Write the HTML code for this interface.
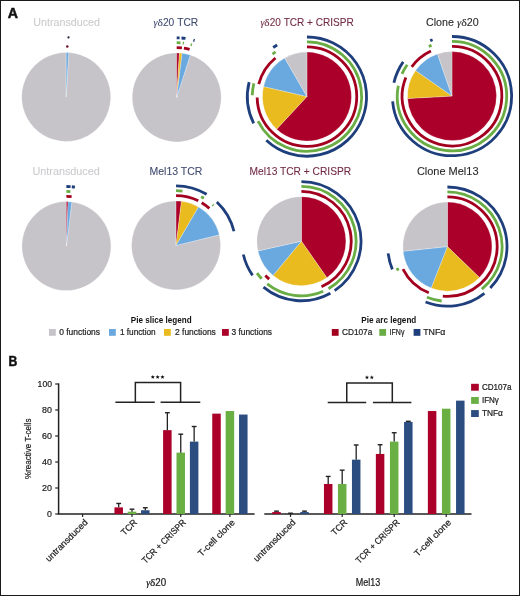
<!DOCTYPE html>
<html><head><meta charset="utf-8"><style>
html,body{margin:0;padding:0;background:#fff;}
svg{display:block;will-change:transform;}
text{font-family:"Liberation Sans",sans-serif;}
</style></head><body>
<svg width="520" height="596" viewBox="0 0 520 596">
<rect x="0" y="0" width="520" height="596" fill="#fff"/>
<path d="M66.20,96.95L68.68,52.52A44.5,44.5 0 1 1 66.20,52.45Z" fill="#c6c4c9" stroke="#fff" stroke-width="0.25" stroke-linejoin="round"/>
<path d="M66.20,96.95L66.20,52.45A44.5,44.5 0 0 1 68.68,52.52Z" fill="#6aa9df" stroke="#fff" stroke-width="0.25" stroke-linejoin="round"/><circle cx="67.3" cy="46.6" r="1.25" fill="#6a0f25"/><circle cx="68.5" cy="37.4" r="1.1" fill="#1c1f33"/>
<path d="M176.70,97.40L190.30,55.03A44.5,44.5 0 1 1 176.70,52.90Z" fill="#c6c4c9" stroke="#fff" stroke-width="0.25" stroke-linejoin="round"/>
<path d="M176.70,97.40L176.70,52.90A44.5,44.5 0 0 1 179.42,52.98Z" fill="#ab0029" stroke="#fff" stroke-width="0.25" stroke-linejoin="round"/>
<path d="M176.70,97.40L179.42,52.98A44.5,44.5 0 0 1 182.12,53.23Z" fill="#e9bb1e" stroke="#fff" stroke-width="0.25" stroke-linejoin="round"/>
<path d="M176.70,97.40L182.12,53.23A44.5,44.5 0 0 1 190.30,55.03Z" fill="#6aa9df" stroke="#fff" stroke-width="0.25" stroke-linejoin="round"/>
<path d="M176.70,47.60A49.8,49.8 0 0 1 181.91,47.87" fill="none" stroke="#a3001f" stroke-width="2.8"/>
<path d="M183.89,48.12A49.8,49.8 0 0 1 189.59,49.30" fill="none" stroke="#a3001f" stroke-width="2.8"/>
<path d="M176.70,42.70A54.7,54.7 0 0 1 180.52,42.83" fill="none" stroke="#6aad44" stroke-width="2.8"/>
<path d="M182.70,43.03A54.7,54.7 0 0 1 183.93,43.18" fill="none" stroke="#6aad44" stroke-width="2.8"/>
<path d="M190.67,44.51A54.7,54.7 0 0 1 191.96,44.87" fill="none" stroke="#6aad44" stroke-width="2.8"/>
<path d="M176.70,37.80A59.6,59.6 0 0 1 179.61,37.87" fill="none" stroke="#1f3f7c" stroke-width="2.8"/>
<path d="M181.48,37.99A59.6,59.6 0 0 1 185.51,38.45" fill="none" stroke="#1f3f7c" stroke-width="2.8"/>
<path d="M193.43,40.20A59.6,59.6 0 0 1 194.62,40.56" fill="none" stroke="#1f3f7c" stroke-width="2.8"/>
<path d="M306.95,96.60L306.95,52.10A44.5,44.5 0 1 1 276.60,129.15Z" fill="#ab0029" stroke="#fff" stroke-width="0.25" stroke-linejoin="round"/>
<path d="M306.95,96.60L276.60,129.15A44.5,44.5 0 0 1 263.59,86.59Z" fill="#e9bb1e" stroke="#fff" stroke-width="0.25" stroke-linejoin="round"/>
<path d="M306.95,96.60L263.59,86.59A44.5,44.5 0 0 1 284.70,58.06Z" fill="#6aa9df" stroke="#fff" stroke-width="0.25" stroke-linejoin="round"/>
<path d="M306.95,96.60L284.70,58.06A44.5,44.5 0 0 1 306.95,52.10Z" fill="#c6c4c9" stroke="#fff" stroke-width="0.25" stroke-linejoin="round"/>
<path d="M306.95,46.80A49.8,49.8 0 1 1 257.16,97.47" fill="none" stroke="#a3001f" stroke-width="2.8"/>
<path d="M258.74,84.13A49.8,49.8 0 0 1 275.47,58.01" fill="none" stroke="#a3001f" stroke-width="2.8"/>
<path d="M306.95,41.90A54.7,54.7 0 1 1 258.04,121.09" fill="none" stroke="#6aad44" stroke-width="2.8"/>
<path d="M252.27,95.17A54.7,54.7 0 0 1 253.87,83.37" fill="none" stroke="#6aad44" stroke-width="2.8"/>
<path d="M272.53,54.09A54.7,54.7 0 0 1 275.58,51.79" fill="none" stroke="#6aad44" stroke-width="2.8"/>
<path d="M306.95,37.00A59.6,59.6 0 1 1 266.30,140.19" fill="none" stroke="#1f3f7c" stroke-width="2.8"/>
<path d="M253.66,123.29A59.6,59.6 0 0 1 249.12,82.18" fill="none" stroke="#1f3f7c" stroke-width="2.8"/>
<path d="M273.19,47.48A59.6,59.6 0 0 1 277.15,44.98" fill="none" stroke="#1f3f7c" stroke-width="2.8"/>
<path d="M452.00,96.10L452.00,51.60A44.5,44.5 0 1 1 407.56,98.43Z" fill="#ab0029" stroke="#fff" stroke-width="0.25" stroke-linejoin="round"/>
<path d="M452.00,96.10L407.56,98.43A44.5,44.5 0 0 1 415.55,70.58Z" fill="#e9bb1e" stroke="#fff" stroke-width="0.25" stroke-linejoin="round"/>
<path d="M452.00,96.10L415.55,70.58A44.5,44.5 0 0 1 437.51,54.02Z" fill="#6aa9df" stroke="#fff" stroke-width="0.25" stroke-linejoin="round"/>
<path d="M452.00,96.10L437.51,54.02A44.5,44.5 0 0 1 452.00,51.60Z" fill="#c6c4c9" stroke="#fff" stroke-width="0.25" stroke-linejoin="round"/>
<path d="M452.00,46.30A49.8,49.8 0 1 1 405.83,77.44" fill="none" stroke="#a3001f" stroke-width="2.8"/>
<path d="M411.71,66.83A49.8,49.8 0 0 1 430.95,50.97" fill="none" stroke="#a3001f" stroke-width="2.8"/>
<path d="M452.00,41.40A54.7,54.7 0 1 1 398.30,85.66" fill="none" stroke="#6aad44" stroke-width="2.8"/>
<path d="M402.03,73.85A54.7,54.7 0 0 1 407.19,64.73" fill="none" stroke="#6aad44" stroke-width="2.8"/>
<path d="M428.88,46.52A54.7,54.7 0 0 1 431.51,45.38" fill="none" stroke="#6aad44" stroke-width="2.8"/>
<path d="M452.00,36.50A59.6,59.6 0 1 1 392.63,101.29" fill="none" stroke="#1f3f7c" stroke-width="2.8"/>
<path d="M393.93,82.69A59.6,59.6 0 0 1 403.18,61.91" fill="none" stroke="#1f3f7c" stroke-width="2.8"/>
<path d="M430.16,40.65A59.6,59.6 0 0 1 432.60,39.75" fill="none" stroke="#1f3f7c" stroke-width="2.8"/>
<path d="M66.40,246.10L71.82,201.93A44.5,44.5 0 1 1 66.40,201.60Z" fill="#c6c4c9" stroke="#fff" stroke-width="0.25" stroke-linejoin="round"/>
<path d="M66.40,246.10L66.40,201.60A44.5,44.5 0 0 1 68.11,201.63Z" fill="#ab0029" stroke="#fff" stroke-width="0.25" stroke-linejoin="round"/>
<path d="M66.40,246.10L68.11,201.63A44.5,44.5 0 0 1 71.82,201.93Z" fill="#6aa9df" stroke="#fff" stroke-width="0.25" stroke-linejoin="round"/>
<path d="M66.40,196.30A49.8,49.8 0 0 1 71.61,196.57" fill="none" stroke="#a3001f" stroke-width="2.8"/>
<path d="M66.40,191.40A54.7,54.7 0 0 1 70.41,191.55" fill="none" stroke="#6aad44" stroke-width="2.8"/>
<path d="M66.40,186.50A59.6,59.6 0 0 1 70.56,186.65" fill="none" stroke="#1f3f7c" stroke-width="2.8"/>
<path d="M71.80,186.75A59.6,59.6 0 0 1 74.90,187.11" fill="none" stroke="#1f3f7c" stroke-width="2.8"/>
<path d="M176.05,245.40L219.28,234.86A44.5,44.5 0 1 1 176.05,200.90Z" fill="#c6c4c9" stroke="#fff" stroke-width="0.25" stroke-linejoin="round"/>
<path d="M176.05,245.40L176.05,200.90A44.5,44.5 0 0 1 181.47,201.23Z" fill="#ab0029" stroke="#fff" stroke-width="0.25" stroke-linejoin="round"/>
<path d="M176.05,245.40L181.47,201.23A44.5,44.5 0 0 1 198.50,206.98Z" fill="#e9bb1e" stroke="#fff" stroke-width="0.25" stroke-linejoin="round"/>
<path d="M176.05,245.40L198.50,206.98A44.5,44.5 0 0 1 219.28,234.86Z" fill="#6aa9df" stroke="#fff" stroke-width="0.25" stroke-linejoin="round"/>
<path d="M176.05,195.60A49.8,49.8 0 0 1 198.27,200.83" fill="none" stroke="#a3001f" stroke-width="2.8"/>
<path d="M201.70,202.71A49.8,49.8 0 0 1 209.37,208.39" fill="none" stroke="#a3001f" stroke-width="2.8"/>
<path d="M176.05,190.70A54.7,54.7 0 0 1 182.53,191.08" fill="none" stroke="#6aad44" stroke-width="2.8"/>
<path d="M201.14,196.79A54.7,54.7 0 0 1 203.89,198.32" fill="none" stroke="#6aad44" stroke-width="2.8"/>
<path d="M212.65,204.75A54.7,54.7 0 0 1 213.49,205.53" fill="none" stroke="#6aad44" stroke-width="2.8"/>
<path d="M176.05,185.80A59.6,59.6 0 0 1 206.66,194.26" fill="none" stroke="#1f3f7c" stroke-width="2.8"/>
<path d="M216.85,201.95A59.6,59.6 0 0 1 233.95,231.28" fill="none" stroke="#1f3f7c" stroke-width="2.8"/>
<path d="M301.40,241.15L301.40,196.65A44.5,44.5 0 0 1 326.86,277.65Z" fill="#ab0029" stroke="#fff" stroke-width="0.25" stroke-linejoin="round"/>
<path d="M301.40,241.15L326.86,277.65A44.5,44.5 0 0 1 273.03,275.44Z" fill="#e9bb1e" stroke="#fff" stroke-width="0.25" stroke-linejoin="round"/>
<path d="M301.40,241.15L273.03,275.44A44.5,44.5 0 0 1 257.99,250.93Z" fill="#6aa9df" stroke="#fff" stroke-width="0.25" stroke-linejoin="round"/>
<path d="M301.40,241.15L257.99,250.93A44.5,44.5 0 0 1 301.40,196.65Z" fill="#c6c4c9" stroke="#fff" stroke-width="0.25" stroke-linejoin="round"/>
<path d="M301.40,191.35A49.8,49.8 0 0 1 321.50,286.71" fill="none" stroke="#a3001f" stroke-width="2.8"/>
<path d="M269.19,279.13A49.8,49.8 0 0 1 265.40,275.56" fill="none" stroke="#a3001f" stroke-width="2.8"/>
<path d="M301.40,186.45A54.7,54.7 0 0 1 328.50,288.66" fill="none" stroke="#6aad44" stroke-width="2.8"/>
<path d="M323.21,291.31A54.7,54.7 0 0 1 267.20,283.84" fill="none" stroke="#6aad44" stroke-width="2.8"/>
<path d="M261.66,278.73A54.7,54.7 0 0 1 257.03,273.15" fill="none" stroke="#6aad44" stroke-width="2.8"/>
<path d="M301.40,181.55A59.6,59.6 0 0 1 334.64,290.62" fill="none" stroke="#1f3f7c" stroke-width="2.8"/>
<path d="M330.39,293.23A59.6,59.6 0 0 1 263.49,287.14" fill="none" stroke="#1f3f7c" stroke-width="2.8"/>
<path d="M252.58,275.34A59.6,59.6 0 0 1 243.33,254.56" fill="none" stroke="#1f3f7c" stroke-width="2.8"/>
<path d="M447.40,246.60L447.40,202.10A44.5,44.5 0 0 1 479.41,277.51Z" fill="#ab0029" stroke="#fff" stroke-width="0.25" stroke-linejoin="round"/>
<path d="M447.40,246.60L479.41,277.51A44.5,44.5 0 0 1 431.16,288.03Z" fill="#e9bb1e" stroke="#fff" stroke-width="0.25" stroke-linejoin="round"/>
<path d="M447.40,246.60L431.16,288.03A44.5,44.5 0 0 1 403.14,251.25Z" fill="#6aa9df" stroke="#fff" stroke-width="0.25" stroke-linejoin="round"/>
<path d="M447.40,246.60L403.14,251.25A44.5,44.5 0 0 1 447.40,202.10Z" fill="#c6c4c9" stroke="#fff" stroke-width="0.25" stroke-linejoin="round"/>
<path d="M447.40,196.80A49.8,49.8 0 1 1 442.80,296.19" fill="none" stroke="#a3001f" stroke-width="2.8"/>
<path d="M428.74,292.77A49.8,49.8 0 0 1 402.95,269.05" fill="none" stroke="#a3001f" stroke-width="2.8"/>
<path d="M447.40,191.90A54.7,54.7 0 0 1 481.82,289.11" fill="none" stroke="#6aad44" stroke-width="2.8"/>
<path d="M441.68,301.00A54.7,54.7 0 0 1 426.91,297.32" fill="none" stroke="#6aad44" stroke-width="2.8"/>
<path d="M398.24,270.58A54.7,54.7 0 0 1 397.05,267.97" fill="none" stroke="#6aad44" stroke-width="2.8"/>
<path d="M447.40,187.00A59.6,59.6 0 0 1 490.27,288.00" fill="none" stroke="#1f3f7c" stroke-width="2.8"/>
<path d="M484.42,293.31A59.6,59.6 0 0 1 425.56,302.05" fill="none" stroke="#1f3f7c" stroke-width="2.8"/>
<path d="M392.34,269.41A59.6,59.6 0 0 1 388.18,253.35" fill="none" stroke="#1f3f7c" stroke-width="2.8"/>
<text x="33.3" y="25.9" font-size="10.2" fill="#cbcbce" text-anchor="start" font-weight="normal" textLength="66.7" lengthAdjust="spacingAndGlyphs"  stroke="#cbcbce" stroke-width="0.08">Untransduced</text>
<text x="153.5" y="25.8" font-size="10.2" fill="#3f4b6e" text-anchor="start" font-weight="normal" textLength="44.7" lengthAdjust="spacingAndGlyphs"  stroke="#3f4b6e" stroke-width="0.08"><tspan font-family='Liberation Serif' font-style='italic'>&#947;</tspan><tspan font-family='Liberation Serif' font-size='11.4'>&#948;</tspan>20 TCR</text>
<text x="260.4" y="25.6" font-size="10.2" fill="#722a45" text-anchor="start" font-weight="normal" textLength="93.4" lengthAdjust="spacingAndGlyphs"  stroke="#722a45" stroke-width="0.08"><tspan font-family='Liberation Serif' font-style='italic'>&#947;</tspan><tspan font-family='Liberation Serif' font-size='11.4'>&#948;</tspan>20 TCR + CRISPR</text>
<text x="426.0" y="25.8" font-size="10.2" fill="#282828" text-anchor="start" font-weight="normal" textLength="52.8" lengthAdjust="spacingAndGlyphs"  stroke="#282828" stroke-width="0.08">Clone <tspan font-family='Liberation Serif' font-style='italic'>&#947;</tspan><tspan font-family='Liberation Serif' font-size='11.4'>&#948;</tspan>20</text>
<text x="32.5" y="175.0" font-size="10.2" fill="#cbcbce" text-anchor="start" font-weight="normal" textLength="67.3" lengthAdjust="spacingAndGlyphs"  stroke="#cbcbce" stroke-width="0.08">Untransduced</text>
<text x="149.5" y="174.9" font-size="10.2" fill="#3f4b6e" text-anchor="start" font-weight="normal" textLength="52.8" lengthAdjust="spacingAndGlyphs"  stroke="#3f4b6e" stroke-width="0.08">Mel13 TCR</text>
<text x="249.5" y="175.0" font-size="10.2" fill="#722a45" text-anchor="start" font-weight="normal" textLength="101.7" lengthAdjust="spacingAndGlyphs"  stroke="#722a45" stroke-width="0.08">Mel13 TCR + CRISPR</text>
<text x="416.9" y="175.0" font-size="10.2" fill="#282828" text-anchor="start" font-weight="normal" textLength="61.6" lengthAdjust="spacingAndGlyphs"  stroke="#282828" stroke-width="0.08">Clone Mel13</text>
<text x="7.7" y="17.9" font-size="14.2" fill="#111" text-anchor="start" font-weight="bold" stroke="#111" stroke-width="0.5">A</text>
<text x="8.6" y="366.3" font-size="14.2" fill="#111" text-anchor="start" font-weight="bold" textLength="8.8" lengthAdjust="spacingAndGlyphs" stroke="#111" stroke-width="0.5">B</text>
<text x="130.8" y="323.0" font-size="8.4" fill="#111" text-anchor="start" font-weight="bold" textLength="60.8" lengthAdjust="spacingAndGlyphs" >Pie slice legend</text>
<rect x="49" y="329" width="6.8" height="6.8" fill="#c6c4c9"/>
<text x="59.2" y="335.3" font-size="9.3" fill="#222" text-anchor="start" font-weight="normal" textLength="40.8" lengthAdjust="spacingAndGlyphs"  stroke="#222" stroke-width="0.22">0 functions</text>
<rect x="109" y="329" width="6.8" height="6.8" fill="#6aa9df"/>
<text x="119.9" y="335.3" font-size="9.3" fill="#222" text-anchor="start" font-weight="normal" textLength="35.8" lengthAdjust="spacingAndGlyphs"  stroke="#222" stroke-width="0.22">1 function</text>
<rect x="164" y="329" width="6.8" height="6.8" fill="#e9bb1e"/>
<text x="175.0" y="335.3" font-size="9.3" fill="#222" text-anchor="start" font-weight="normal" textLength="40.8" lengthAdjust="spacingAndGlyphs"  stroke="#222" stroke-width="0.22">2 functions</text>
<rect x="222" y="329" width="6.8" height="6.8" fill="#ab0029"/>
<text x="231.5" y="335.3" font-size="9.3" fill="#222" text-anchor="start" font-weight="normal" textLength="40.5" lengthAdjust="spacingAndGlyphs"  stroke="#222" stroke-width="0.22">3 functions</text>
<text x="361.3" y="323.0" font-size="8.4" fill="#111" text-anchor="start" font-weight="bold" textLength="55.0" lengthAdjust="spacingAndGlyphs" >Pie arc legend</text>
<rect x="331.8" y="329" width="6.8" height="6.8" fill="#a3001f"/>
<text x="342.0" y="335.3" font-size="9.3" fill="#222" text-anchor="start" font-weight="normal" textLength="30.3" lengthAdjust="spacingAndGlyphs"  stroke="#222" stroke-width="0.22">CD107a</text>
<rect x="379.3" y="329" width="6.8" height="6.8" fill="#6aad44"/>
<text x="389.6" y="335.3" font-size="9.3" fill="#222" text-anchor="start" font-weight="normal" textLength="14.8" lengthAdjust="spacingAndGlyphs"  stroke="#222" stroke-width="0.22">IFN&#947;</text>
<rect x="413.6" y="329" width="6.8" height="6.8" fill="#1f3f7c"/>
<text x="423.2" y="335.3" font-size="9.3" fill="#222" text-anchor="start" font-weight="normal" textLength="22.2" lengthAdjust="spacingAndGlyphs"  stroke="#222" stroke-width="0.22">TNF&#945;</text>
<line x1="58.6" y1="383.40" x2="58.6" y2="514.00" stroke="#222" stroke-width="1.5"/>
<line x1="55.2" y1="514.00" x2="58.6" y2="514.00" stroke="#222" stroke-width="1.2"/>
<text x="52.0" y="517.2" font-size="9.2" fill="#222" text-anchor="end" font-weight="normal" textLength="4.9" lengthAdjust="spacingAndGlyphs"  stroke="#222" stroke-width="0.22">0</text>
<line x1="55.2" y1="488.00" x2="58.6" y2="488.00" stroke="#222" stroke-width="1.2"/>
<text x="52.0" y="491.2" font-size="9.2" fill="#222" text-anchor="end" font-weight="normal" textLength="9.9" lengthAdjust="spacingAndGlyphs"  stroke="#222" stroke-width="0.22">20</text>
<line x1="55.2" y1="462.00" x2="58.6" y2="462.00" stroke="#222" stroke-width="1.2"/>
<text x="52.0" y="465.2" font-size="9.2" fill="#222" text-anchor="end" font-weight="normal" textLength="9.9" lengthAdjust="spacingAndGlyphs"  stroke="#222" stroke-width="0.22">40</text>
<line x1="55.2" y1="436.00" x2="58.6" y2="436.00" stroke="#222" stroke-width="1.2"/>
<text x="52.0" y="439.2" font-size="9.2" fill="#222" text-anchor="end" font-weight="normal" textLength="9.9" lengthAdjust="spacingAndGlyphs"  stroke="#222" stroke-width="0.22">60</text>
<line x1="55.2" y1="410.00" x2="58.6" y2="410.00" stroke="#222" stroke-width="1.2"/>
<text x="52.0" y="413.2" font-size="9.2" fill="#222" text-anchor="end" font-weight="normal" textLength="9.9" lengthAdjust="spacingAndGlyphs"  stroke="#222" stroke-width="0.22">80</text>
<line x1="55.2" y1="384.00" x2="58.6" y2="384.00" stroke="#222" stroke-width="1.2"/>
<text x="52.0" y="387.2" font-size="9.2" fill="#222" text-anchor="end" font-weight="normal" textLength="14.4" lengthAdjust="spacingAndGlyphs"  stroke="#222" stroke-width="0.22">100</text>
<line x1="57.9" y1="514.0" x2="254.6" y2="514.0" stroke="#222" stroke-width="1.5"/>
<line x1="264.3" y1="514.0" x2="471.5" y2="514.0" stroke="#222" stroke-width="1.5"/>
<line x1="82.60" y1="514.0" x2="82.60" y2="517.00" stroke="#222" stroke-width="1.2"/>
<rect x="114.45" y="507.37" width="8.5" height="6.63" fill="#ab0029"/>
<line x1="118.70" y1="507.37" x2="118.70" y2="503.47" stroke="#222" stroke-width="1.3"/>
<line x1="116.30" y1="503.47" x2="121.10" y2="503.47" stroke="#222" stroke-width="1.4"/>
<rect x="127.75" y="511.66" width="8.5" height="2.34" fill="#6aaf44"/>
<line x1="132.00" y1="511.66" x2="132.00" y2="509.19" stroke="#222" stroke-width="1.3"/>
<line x1="129.60" y1="509.19" x2="134.40" y2="509.19" stroke="#222" stroke-width="1.4"/>
<rect x="141.05" y="510.23" width="8.5" height="3.77" fill="#2c4d80"/>
<line x1="145.30" y1="510.23" x2="145.30" y2="507.76" stroke="#222" stroke-width="1.3"/>
<line x1="142.90" y1="507.76" x2="147.70" y2="507.76" stroke="#222" stroke-width="1.4"/>
<line x1="132.00" y1="514.0" x2="132.00" y2="517.00" stroke="#222" stroke-width="1.2"/>
<rect x="163.10" y="430.15" width="8.5" height="83.85" fill="#ab0029"/>
<line x1="167.35" y1="430.15" x2="167.35" y2="412.73" stroke="#222" stroke-width="1.3"/>
<line x1="164.95" y1="412.73" x2="169.75" y2="412.73" stroke="#222" stroke-width="1.4"/>
<rect x="176.50" y="452.64" width="8.5" height="61.36" fill="#6aaf44"/>
<line x1="180.75" y1="452.64" x2="180.75" y2="434.18" stroke="#222" stroke-width="1.3"/>
<line x1="178.35" y1="434.18" x2="183.15" y2="434.18" stroke="#222" stroke-width="1.4"/>
<rect x="189.90" y="441.59" width="8.5" height="72.41" fill="#2c4d80"/>
<line x1="194.15" y1="441.59" x2="194.15" y2="426.51" stroke="#222" stroke-width="1.3"/>
<line x1="191.75" y1="426.51" x2="196.55" y2="426.51" stroke="#222" stroke-width="1.4"/>
<line x1="180.75" y1="514.0" x2="180.75" y2="517.00" stroke="#222" stroke-width="1.2"/>
<rect x="212.25" y="413.64" width="8.5" height="100.36" fill="#ab0029"/>
<rect x="225.65" y="411.04" width="8.5" height="102.96" fill="#6aaf44"/>
<rect x="239.05" y="414.55" width="8.5" height="99.45" fill="#2c4d80"/>
<line x1="229.90" y1="514.0" x2="229.90" y2="517.00" stroke="#222" stroke-width="1.2"/>
<rect x="272.25" y="512.05" width="8.5" height="1.95" fill="#ab0029"/>
<line x1="276.50" y1="512.05" x2="276.50" y2="511.14" stroke="#222" stroke-width="1.3"/>
<line x1="274.10" y1="511.14" x2="278.90" y2="511.14" stroke="#222" stroke-width="1.4"/>
<line x1="290.50" y1="514.00" x2="290.50" y2="513.22" stroke="#222" stroke-width="1.3"/>
<line x1="288.10" y1="513.22" x2="292.90" y2="513.22" stroke="#222" stroke-width="1.4"/>
<rect x="300.25" y="512.05" width="8.5" height="1.95" fill="#2c4d80"/>
<line x1="304.50" y1="512.05" x2="304.50" y2="511.14" stroke="#222" stroke-width="1.3"/>
<line x1="302.10" y1="511.14" x2="306.90" y2="511.14" stroke="#222" stroke-width="1.4"/>
<line x1="290.50" y1="514.0" x2="290.50" y2="517.00" stroke="#222" stroke-width="1.2"/>
<rect x="323.95" y="483.97" width="8.5" height="30.03" fill="#ab0029"/>
<line x1="328.20" y1="483.97" x2="328.20" y2="476.43" stroke="#222" stroke-width="1.3"/>
<line x1="325.80" y1="476.43" x2="330.60" y2="476.43" stroke="#222" stroke-width="1.4"/>
<rect x="337.95" y="483.97" width="8.5" height="30.03" fill="#6aaf44"/>
<line x1="342.20" y1="483.97" x2="342.20" y2="470.19" stroke="#222" stroke-width="1.3"/>
<line x1="339.80" y1="470.19" x2="344.60" y2="470.19" stroke="#222" stroke-width="1.4"/>
<rect x="351.95" y="459.66" width="8.5" height="54.34" fill="#2c4d80"/>
<line x1="356.20" y1="459.66" x2="356.20" y2="444.97" stroke="#222" stroke-width="1.3"/>
<line x1="353.80" y1="444.97" x2="358.60" y2="444.97" stroke="#222" stroke-width="1.4"/>
<line x1="342.20" y1="514.0" x2="342.20" y2="517.00" stroke="#222" stroke-width="1.2"/>
<rect x="375.85" y="453.94" width="8.5" height="60.06" fill="#ab0029"/>
<line x1="380.10" y1="453.94" x2="380.10" y2="444.71" stroke="#222" stroke-width="1.3"/>
<line x1="377.70" y1="444.71" x2="382.50" y2="444.71" stroke="#222" stroke-width="1.4"/>
<rect x="389.95" y="441.59" width="8.5" height="72.41" fill="#6aaf44"/>
<line x1="394.20" y1="441.59" x2="394.20" y2="432.75" stroke="#222" stroke-width="1.3"/>
<line x1="391.80" y1="432.75" x2="396.60" y2="432.75" stroke="#222" stroke-width="1.4"/>
<rect x="404.05" y="421.96" width="8.5" height="92.04" fill="#2c4d80"/>
<line x1="408.30" y1="421.96" x2="408.30" y2="421.31" stroke="#222" stroke-width="1.3"/>
<line x1="405.90" y1="421.31" x2="410.70" y2="421.31" stroke="#222" stroke-width="1.4"/>
<line x1="394.20" y1="514.0" x2="394.20" y2="517.00" stroke="#222" stroke-width="1.2"/>
<rect x="427.85" y="411.04" width="8.5" height="102.96" fill="#ab0029"/>
<rect x="441.95" y="408.70" width="8.5" height="105.30" fill="#6aaf44"/>
<rect x="456.05" y="400.64" width="8.5" height="113.36" fill="#2c4d80"/>
<line x1="446.20" y1="514.0" x2="446.20" y2="517.00" stroke="#222" stroke-width="1.2"/>
<line x1="115.4" y1="402.2" x2="154.8" y2="402.2" stroke="#222" stroke-width="1.5"/>
<line x1="160.6" y1="402.2" x2="200.3" y2="402.2" stroke="#222" stroke-width="1.5"/>
<polyline points="135.35,402.2 135.35,382.6 180.6,382.6 180.6,402.2" fill="none" stroke="#222" stroke-width="1.5"/>
<polygon points="152.80,374.95 153.36,376.33 154.84,376.44 153.70,377.39 154.06,378.84 152.80,378.05 151.54,378.84 151.90,377.39 150.76,376.44 152.24,376.33" fill="#111"/>
<polygon points="157.65,374.95 158.21,376.33 159.69,376.44 158.55,377.39 158.91,378.84 157.65,378.05 156.39,378.84 156.75,377.39 155.61,376.44 157.09,376.33" fill="#111"/>
<polygon points="162.50,374.95 163.06,376.33 164.54,376.44 163.40,377.39 163.76,378.84 162.50,378.05 161.24,378.84 161.60,377.39 160.46,376.44 161.94,376.33" fill="#111"/>
<line x1="327.7" y1="402.4" x2="366.2" y2="402.4" stroke="#222" stroke-width="1.5"/>
<line x1="372.9" y1="402.4" x2="411.4" y2="402.4" stroke="#222" stroke-width="1.5"/>
<polyline points="346.75,402.4 346.75,382.9 392.3,382.9 392.3,402.4" fill="none" stroke="#222" stroke-width="1.5"/>
<polygon points="366.97,375.25 367.53,376.63 369.02,376.74 367.88,377.69 368.24,379.14 366.97,378.35 365.71,379.14 366.07,377.69 364.93,376.74 366.42,376.63" fill="#111"/>
<polygon points="371.82,375.25 372.38,376.63 373.87,376.74 372.73,377.69 373.09,379.14 371.82,378.35 370.56,379.14 370.92,377.69 369.78,376.74 371.27,376.63" fill="#111"/>
<rect x="471.1" y="383.8" width="7.7" height="6.9" fill="#ab0029"/>
<text x="481.9" y="389.90000000000003" font-size="8.7" fill="#222" text-anchor="start" font-weight="normal" textLength="29.7" lengthAdjust="spacingAndGlyphs"  stroke="#222" stroke-width="0.22">CD107a</text>
<rect x="471.1" y="397.0" width="7.7" height="6.9" fill="#6aaf44"/>
<text x="481.9" y="403.1" font-size="8.7" fill="#222" text-anchor="start" font-weight="normal" textLength="17.0" lengthAdjust="spacingAndGlyphs"  stroke="#222" stroke-width="0.22">IFN&#947;</text>
<rect x="471.1" y="410.1" width="7.7" height="6.9" fill="#2c4d80"/>
<text x="481.9" y="416.20000000000005" font-size="8.7" fill="#222" text-anchor="start" font-weight="normal" textLength="21.0" lengthAdjust="spacingAndGlyphs"  stroke="#222" stroke-width="0.22">TNF&#945;</text>
<text x="0" y="0" font-size="9.8" fill="#222" text-anchor="middle" font-weight="normal" textLength="60.6" lengthAdjust="spacingAndGlyphs" transform="translate(31.3,448.7) rotate(-90)" stroke="#222" stroke-width="0.22">%reactive T-cells</text>
<text x="0" y="0" font-size="9.0" fill="#222" text-anchor="end" font-weight="normal" textLength="55.5" lengthAdjust="spacingAndGlyphs" transform="translate(88.30,523.00) rotate(-45)" stroke="#222" stroke-width="0.22">untransduced</text>
<text x="0" y="0" font-size="9.0" fill="#222" text-anchor="end" font-weight="normal" textLength="18.5" lengthAdjust="spacingAndGlyphs" transform="translate(137.70,523.00) rotate(-45)" stroke="#222" stroke-width="0.22">TCR</text>
<text x="0" y="0" font-size="9.0" fill="#222" text-anchor="end" font-weight="normal" textLength="58.0" lengthAdjust="spacingAndGlyphs" transform="translate(186.45,523.00) rotate(-45)" stroke="#222" stroke-width="0.22">TCR + CRISPR</text>
<text x="0" y="0" font-size="9.0" fill="#222" text-anchor="end" font-weight="normal" textLength="48.0" lengthAdjust="spacingAndGlyphs" transform="translate(235.55,523.00) rotate(-45)" stroke="#222" stroke-width="0.22">T-cell clone</text>
<text x="0" y="0" font-size="9.0" fill="#222" text-anchor="end" font-weight="normal" textLength="55.5" lengthAdjust="spacingAndGlyphs" transform="translate(296.20,523.00) rotate(-45)" stroke="#222" stroke-width="0.22">untransduced</text>
<text x="0" y="0" font-size="9.0" fill="#222" text-anchor="end" font-weight="normal" textLength="18.5" lengthAdjust="spacingAndGlyphs" transform="translate(347.90,523.00) rotate(-45)" stroke="#222" stroke-width="0.22">TCR</text>
<text x="0" y="0" font-size="9.0" fill="#222" text-anchor="end" font-weight="normal" textLength="58.0" lengthAdjust="spacingAndGlyphs" transform="translate(400.20,523.00) rotate(-45)" stroke="#222" stroke-width="0.22">TCR + CRISPR</text>
<text x="0" y="0" font-size="9.0" fill="#222" text-anchor="end" font-weight="normal" textLength="48.0" lengthAdjust="spacingAndGlyphs" transform="translate(451.80,523.00) rotate(-45)" stroke="#222" stroke-width="0.22">T-cell clone</text>
<text x="156.2" y="585.8" font-size="10.0" fill="#222" text-anchor="middle" font-weight="normal" textLength="20.0" lengthAdjust="spacingAndGlyphs"  stroke="#222" stroke-width="0.22"><tspan font-family='Liberation Serif' font-style='italic'>&#947;</tspan><tspan font-family='Liberation Serif' font-size='11.4'>&#948;</tspan>20</text>
<text x="368.0" y="585.8" font-size="10.0" fill="#222" text-anchor="middle" font-weight="normal" textLength="24.5" lengthAdjust="spacingAndGlyphs"  stroke="#222" stroke-width="0.22">Mel13</text>
<rect x="0.5" y="0.5" width="519" height="595" fill="none" stroke="#1a1a1a" stroke-width="1"/>
</svg>
</body></html>
